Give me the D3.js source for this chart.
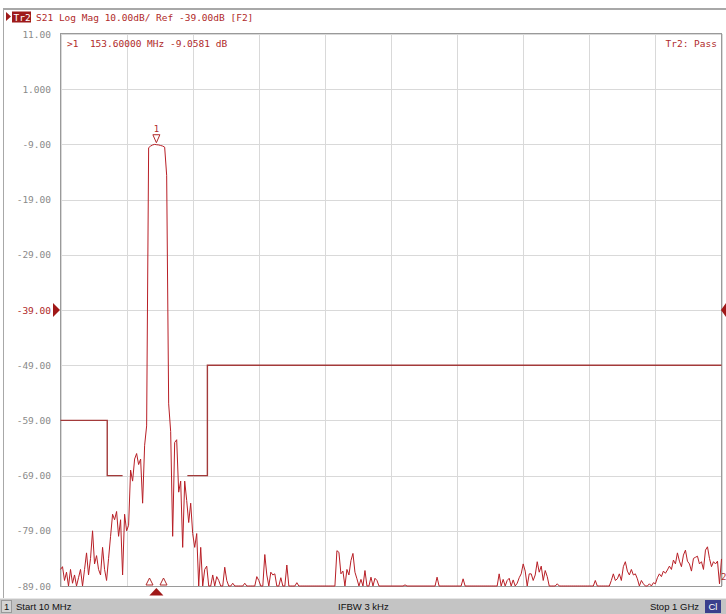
<!DOCTYPE html>
<html><head><meta charset="utf-8">
<script src="https://cdn.jsdelivr.net/npm/d3@7"></script>
<style>html,body{margin:0;padding:0;background:#fff;}svg{display:block}</style>
</head><body>
<svg id="c" width="726" height="614"></svg>
<script>
// ---------- data ----------
const startFreq = 10, stopFreq = 1000, freqStep = 3; // MHz sweep
const yTickValues = [11, 1, -9, -19, -29, -39, -49, -59, -69, -79, -89];
const yTickLabels = ["11.00","1.000","-9.00","-19.00","-29.00","-39.00","-49.00","-59.00","-69.00","-79.00","-89.00"];
const xGridFreqs = [10, 109, 208, 307, 406, 505, 604, 703, 802, 901, 1000];
const refLevel = -39;
// S21 trace (dB), one value per sweep point
const traceDb = [
 -86,-85.5,-88,-86.5,-89,-86,-88.5,-87,-89,-87.5,
 -86,-89,-86,-83,-87,-84,-79,-85,-83.5,-86,
 -87,-82,-86,-88,-84,-80,-76,-77,-75.5,-80,
 -77,-87,-76,-79,-78,-68,-70,-66,-65,-67,
 -66,-74,-63.5,-60,-9.6,-9.3,-9.1,-9.0,-9.06,-9.1,
 -9.2,-9.3,-9.5,-14.6,-56,-61,-80,-63,-62.5,-72,
 -70,-82,-70,-73.5,-77.5,-74,-79.5,-82,-79.5,-89,
 -82,-89,-86,-85.4,-89,-89,-87,-89,-87.3,-88,
 -89,-89,-85.6,-88,-89,-89,-88.5,-89,-89,-89,
 -89,-89,-88.5,-89,-89,-89,-89,-89,-87.3,-88,
 -89,-89,-83.3,-87,-89,-86.5,-87,-86.8,-89,-89,
 -87.5,-89,-89,-85.2,-89,-89,-89,-89,-88.4,-89,
 -89,-89,-89,-89,-89,-89,-89,-89,-89,-89,
 -89,-89,-89,-89,-89,-89,-89,-89,-82.6,-82.9,
 -86.8,-86.3,-89,-86,-87,-84.4,-83.1,-86.5,-87.7,-89,
 -87.8,-89,-86.2,-89,-89,-87.4,-89,-87.6,-88,-89,
 -89,-89,-89,-89,-89,-89,-89,-89,-89,-89,
 -89,-89,-88.8,-89,-89,-89,-89,-89,-89,-89,
 -89,-89,-89,-89,-89,-89,-89,-89,-87.4,-89,
 -89,-89,-89,-89,-89,-89,-89,-89,-89,-89,
 -89,-87.7,-89,-89,-89,-89,-89,-89,-89,-89,
 -89,-89,-89,-89,-89,-89,-89,-89,-89,-86.8,
 -89,-87.8,-89,-88,-87.6,-89,-87.9,-89,-88.5,-87.5,
 -86.8,-85,-86.3,-89,-86.8,-86.8,-88,-87,-84.6,-86.5,
 -85.4,-88,-86.2,-87.3,-89,-89,-89,-89,-88.6,-89,
 -89,-89,-89,-89,-89,-89,-89,-89,-89,-89,
 -89,-89,-89,-89,-89,-89,-89,-88,-89,-89,
 -89,-89,-89,-89,-89,-88,-86.8,-88,-87.7,-86.8,
 -88,-85.5,-84.6,-86.3,-87,-86,-87,-86.8,-87.7,-89,
 -88,-88.6,-89,-89,-88.6,-89,-88.4,-88.6,-87.5,-86.8,
 -87.3,-86.3,-86.7,-86.1,-85.4,-86,-84.3,-85,-83,-84.5,
 -85.5,-83.4,-82.5,-84.5,-85,-86.3,-84,-83.8,-83.6,-85,
 -84.6,-86,-82.5,-81.9,-84,-85.5,-84.6,-85,-84.5,-88.6,-84.1
];
// limit line segments (MHz, dB)
const limitSegA = [[10,-59],[80,-59],[80,-69],[103,-69]];
const limitSegB = [[200,-69],[230,-69],[230,-49],[1000,-49]];
// markers
const marker1 = {freq: 153.6, db: -9.0581, label: "1"};
const bwMarkerFreqs = [143.3, 164.3];
const headerText = "S21 Log Mag 10.00dB/ Ref -39.00dB [F2]";
const readoutText = ">1  153.60000 MHz -9.0581 dB";
const passText = "Tr2: Pass";

// ---------- drawing ----------
const svg = d3.select("#c");
const mono = "'DejaVu Sans Mono', 'Liberation Mono', monospace";
const red = "#b02a2a";
const x = d3.scaleLinear().domain([startFreq, stopFreq]).range([60.5, 721.5]);
const y = d3.scaleLinear().domain([-89, 11]).range([586, 34]);

// frame
svg.append("line").attr("x1",3).attr("x2",726).attr("y1",9).attr("y2",9).attr("stroke","#a8a8a8").attr("stroke-width",2);
svg.append("line").attr("x1",3.5).attr("x2",3.5).attr("y1",9).attr("y2",598).attr("stroke","#a8a8a8").attr("stroke-width",1);

// header
svg.append("path").attr("d","M6,12 L11,16.5 L6,21 Z").attr("fill","#9e1a1a");
svg.append("rect").attr("x",12).attr("y",11.5).attr("width",19).attr("height",11).attr("fill","#9e1a1a");
svg.append("text").attr("x",13.5).attr("y",20.5).attr("font-family",mono).attr("font-size","9.5px").attr("fill","#fff").text("Tr2");
svg.append("text").attr("x",36).attr("y",20.5).attr("font-family",mono).attr("font-size","9.5px").attr("fill",red).text(headerText);

// grid
const g = svg.append("g");
g.selectAll("line.vg").data(xGridFreqs).join("line")
  .attr("x1",d=>Math.round(x(d))+0.5).attr("x2",d=>Math.round(x(d))+0.5)
  .attr("y1",y(11)).attr("y2",y(-89)).attr("stroke","#d9d9d9");
g.selectAll("line.hg").data(yTickValues).join("line")
  .attr("x1",x(startFreq)).attr("x2",x(stopFreq))
  .attr("y1",d=>Math.round(y(d))+0.5).attr("y2",d=>Math.round(y(d))+0.5).attr("stroke","#d9d9d9");
svg.append("rect").attr("x",60.5).attr("y",33.5).attr("width",661).attr("height",553)
  .attr("fill","none").attr("stroke","#9a9a9a");

// y labels
svg.selectAll("text.yl").data(yTickValues).join("text")
  .attr("x",51).attr("y",d=>y(d)+3.5).attr("text-anchor","end")
  .attr("font-family",mono).attr("font-size","9.5px")
  .attr("fill",(d)=>d===refLevel?red:"#8a8a8a")
  .text((d,i)=>yTickLabels[i]);

// reference triangles
svg.append("path").attr("d",`M53,${y(refLevel)-7} L60,${y(refLevel)} L53,${y(refLevel)+7} Z`).attr("fill","#a01818");
svg.append("path").attr("d",`M726,${y(refLevel)-7} L721,${y(refLevel)} L726,${y(refLevel)+7} Z`).attr("fill","#a01818");

// limit lines
const lim = d3.line().x(d=>x(d[0])).y(d=>y(d[1]));
[limitSegA, limitSegB].forEach(s=>{
  svg.append("path").attr("d",lim(s)).attr("fill","none").attr("stroke","#a33a3a").attr("stroke-width",1.4);
});

// trace
const clip = v => Math.max(-89.3, Math.min(11, v));
const traceLine = d3.line().x((d,i)=>x(startFreq + i*freqStep)).y(d=>y(clip(d)));
svg.append("path").attr("d",traceLine(traceDb)).attr("fill","none").attr("stroke","#b81f26").attr("stroke-width",1);

// marker 1
const mx = x(marker1.freq), my = y(marker1.db);
svg.append("path").attr("d",`M${mx-3.5},${my-10} L${mx+3.5},${my-10} L${mx},${my-2} Z`).attr("fill","#fff").attr("stroke",red).attr("stroke-width",1);
svg.append("text").attr("x",mx).attr("y",my-13).attr("text-anchor","middle").attr("font-family",mono).attr("font-size","9px").attr("fill",red).text(marker1.label);
// bandwidth markers
svg.selectAll("path.bw").data(bwMarkerFreqs).join("path")
  .attr("d",d=>`M${x(d)-3.5},${y(-89)-1} L${x(d)+3.5},${y(-89)-1} L${x(d)},${y(-89)-8} Z`)
  .attr("fill","#fff").attr("stroke",red).attr("stroke-width",1);
// stimulus marker under axis
svg.append("path").attr("d",`M${mx-7},595.5 L${mx+7},595.5 L${mx},588 Z`).attr("fill","#a01818");
// trace label at right
svg.append("text").attr("x",721).attr("y",580).attr("font-family",mono).attr("font-size","9px").attr("fill",red).text("2");

// readouts
svg.append("text").attr("x",67).attr("y",47).attr("font-family",mono).attr("font-size","9.5px").attr("fill",red).attr("xml:space","preserve").style("white-space","pre").text(readoutText);
svg.append("text").attr("x",717).attr("y",47).attr("text-anchor","end").attr("font-family",mono).attr("font-size","9.5px").attr("fill",red).text(passText);

// status bar
const sb = svg.append("g");
sb.append("rect").attr("x",0).attr("y",598).attr("width",726).attr("height",16).attr("fill","#c4c4c4");
sb.append("line").attr("x1",0).attr("x2",726).attr("y1",598.5).attr("y2",598.5).attr("stroke","#e6e6e6");
sb.append("rect").attr("x",1.5).attr("y",600.5).attr("width",10).attr("height",12).attr("fill","#d4d4d4").attr("stroke","#9a9a9a");
const sf = "'Liberation Sans', Arial, sans-serif";
sb.append("text").attr("x",4).attr("y",610).attr("font-family",sf).attr("font-size","9.5px").attr("fill","#111").text("1");
sb.append("text").attr("x",16).attr("y",610).attr("font-family",sf).attr("font-size","9.5px").attr("fill","#111").text("Start 10 MHz");
sb.append("text").attr("x",338).attr("y",610).attr("font-family",sf).attr("font-size","9.5px").attr("fill","#111").text("IFBW 3 kHz");
sb.append("text").attr("x",699).attr("y",610).attr("text-anchor","end").attr("font-family",sf).attr("font-size","9.5px").attr("fill","#111").text("Stop 1 GHz");
sb.append("rect").attr("x",705).attr("y",600).attr("width",16).attr("height",13).attr("fill","#3a3f8c");
sb.append("text").attr("x",713).attr("y",610).attr("text-anchor","middle").attr("font-family",sf).attr("font-size","9.5px").attr("fill","#fff").text("Cl");
</script>
</body></html>
